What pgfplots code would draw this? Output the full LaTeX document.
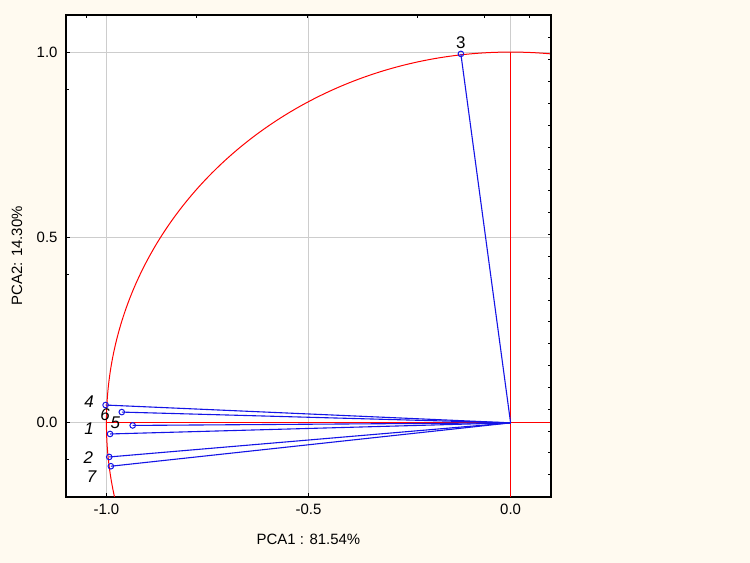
\documentclass[border=0pt]{standalone}
\usepackage{pgfplots}
\pgfplotsset{compat=1.18}
\usepackage{fontspec}
\setmainfont{Liberation Sans}
\definecolor{cream}{RGB}{255,250,240}
\definecolor{gridgray}{RGB}{205,205,205}
\definecolor{vblue}{RGB}{20,20,230}
\begin{document}
\begin{tikzpicture}[x=1bp,y=1bp]
\fill[cream] (0,0) rectangle (750,563);
\begin{axis}[at={(66bp,66bp)}, anchor=south west, scale only axis,
 width=485bp, height=482bp,
 xmin=-1.1, xmax=0.1, ymin=-0.2, ymax=1.1,
 axis background/.style={fill=white},
 axis line style={black, line width=1.3bp},
 xtick={-1,-0.5,0}, ytick={0,0.5,1},
 minor ytick={-0.1,0.4,0.9},
 xticklabels={-1.0,-0.5,0.0}, yticklabels={0.0,0.5,1.0},
 tick pos=left, tick align=inside,
 major tick length=4bp, minor tick length=3bp,
 every tick/.style={black, line width=1bp},
 grid=major, major grid style={gridgray, line width=0.9bp},
 tick label style={font=\fontsize{15}{17}\selectfont},
 xticklabel style={yshift=-4bp},
 yticklabel style={xshift=-5bp},
 xlabel={PCA1 : 81.54\%}, ylabel={PCA2: 14.30\%},
 label style={font=\fontsize{15}{17}\selectfont},
 xlabel style={at={(axis description cs:0.5,-0.0871)}, anchor=center},
 ylabel style={at={(axis description cs:-0.101,0.5)}, anchor=center},
]
\draw[red, line width=1bp] (axis cs:0,0) ellipse [x radius=1, y radius=1];
\addplot[red, line width=1bp, forget plot] coordinates {(-1,0) (0.1,0)};
\addplot[red, line width=1bp, forget plot] coordinates {(0,-0.2) (0,1)};
\pgfplotsset{vec/.style={vblue, line width=1.1bp, mark=o, mark indices={2}, mark size=2.8bp, mark options={line width=1bp}}}
\addplot[vec] coordinates {(0,0) (-0.991,-0.030)};
\addplot[vec] coordinates {(0,0) (-0.993,-0.092)};
\addplot[vec] coordinates {(0,0) (-0.123,0.995)};
\addplot[vec] coordinates {(0,0) (-1.002,0.048)};
\addplot[vec] coordinates {(0,0) (-0.935,-0.007)};
\addplot[vec] coordinates {(0,0) (-0.962,0.029)};
\addplot[vec] coordinates {(0,0) (-0.989,-0.117)};
\begin{scope}[font=\fontsize{17}{19}\selectfont\itshape]
\node at (axis cs:-1.043,-0.016) {1};
\node at (axis cs:-1.045,-0.093) {2};
\node[font=\fontsize{17}{19}\selectfont] at (axis cs:-0.123,1.026) {3};
\node at (axis cs:-1.043,0.056) {4};
\node at (axis cs:-0.978,0.000) {5};
\node at (axis cs:-1.003,0.0215) {6};
\node at (axis cs:-1.037,-0.146) {7};
\end{scope}
\end{axis}
\begin{axis}[at={(66bp,66bp)}, anchor=south west, scale only axis,
 width=485bp, height=482bp,
 xmin=-1.1, xmax=0.1, ymin=-0.2, ymax=1.1,
 axis x line*=top, axis y line*=right,
 axis line style={black, line width=1.3bp},
 xtick={-1.0498,-0.777,-0.5025,-0.2296,-0.0647,0.0465},
 ytick={-0.140,-0.0811,...,1.04},
 xticklabels={}, yticklabels={},
 tick align=inside, major tick length=3bp,
 every tick/.style={black, line width=1bp},
]
\end{axis}
\end{tikzpicture}
\end{document}
